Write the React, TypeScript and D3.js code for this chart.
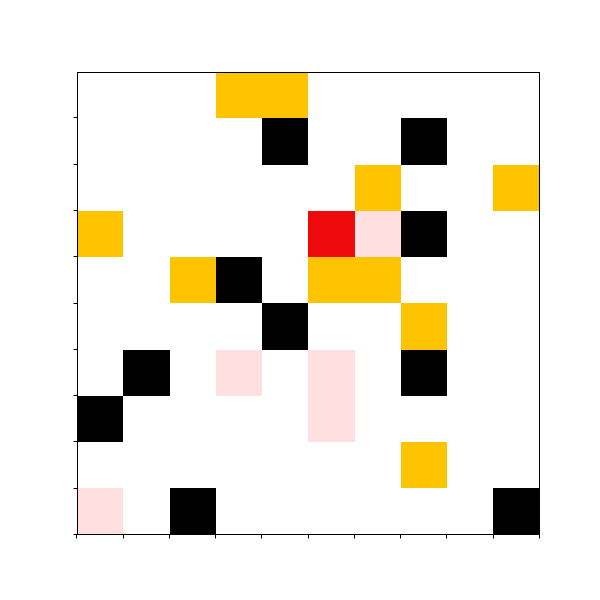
import React from "react";
import * as d3 from "d3";

const categoryNames = ["empty", "pink", "yellow", "red", "black"];
const categoryColors = ["#ffffff", "#ffdfe0", "#ffc400", "#ee0a0a", "#000000"];

// rows listed from top to bottom, values are category indices
const row0 = [0, 0, 0, 2, 2, 0, 0, 0, 0, 0];
const row1 = [0, 0, 0, 0, 4, 0, 0, 4, 0, 0];
const row2 = [0, 0, 0, 0, 0, 0, 2, 0, 0, 2];
const row3 = [2, 0, 0, 0, 0, 3, 1, 4, 0, 0];
const row4 = [0, 0, 2, 4, 0, 2, 2, 0, 0, 0];
const row5 = [0, 0, 0, 0, 4, 0, 0, 2, 0, 0];
const row6 = [0, 4, 0, 1, 0, 1, 0, 4, 0, 0];
const row7 = [4, 0, 0, 0, 0, 1, 0, 0, 0, 0];
const row8 = [0, 0, 0, 0, 0, 0, 0, 2, 0, 0];
const row9 = [1, 0, 4, 0, 0, 0, 0, 0, 0, 4];
const grid = [row0, row1, row2, row3, row4, row5, row6, row7, row8, row9];

const xTicks = [0, 1, 2, 3, 4, 5, 6, 7, 8, 9, 10];
const yTicks = [0, 1, 2, 3, 4, 5, 6, 7, 8, 9];

export default function App() {
  const W = 600, H = 600;
  const left = 77, right = 539.5, top = 72, bottom = 534.5;
  const x = d3.scaleLinear().domain([0, 10]).range([left, right]);
  const y = d3.scaleLinear().domain([0, 10]).range([bottom, top]);
  const nRows = grid.length;
  const color = d3.scaleOrdinal<number, string>().domain(d3.range(categoryNames.length)).range(categoryColors);
  const px = (v: number) => Math.round(v - 0.5) + 0.5;

  const cells: JSX.Element[] = [];
  grid.forEach((row, r) => {
    row.forEach((v, c) => {
      if (v === 0) return;
      const yv = nRows - 1 - r;
      cells.push(
        <rect
          key={`${r}-${c}`}
          x={x(c)}
          y={y(yv + 1)}
          width={x(c + 1) - x(c)}
          height={y(yv) - y(yv + 1)}
          fill={color(v)}
          shapeRendering="crispEdges"
        />
      );
    });
  });

  const L = px(left), R = px(right - 0.5), T = px(top), B = px(bottom - 0.5);

  return (
    <svg width={W} height={H} style={{ display: "block", position: "absolute", left: 0, top: 0 }}>
      <rect width={W} height={H} fill="#fff" />
      {cells}
      {xTicks.map((t) => (
        <line key={"xt" + t} x1={px(x(t) - 0.25)} x2={px(x(t) - 0.25)} y1={B} y2={B + 4} stroke="#000" strokeWidth={1} />
      ))}
      {yTicks.map((t) => (
        <line key={"yt" + t} x1={L - 4} x2={L} y1={px(y(t) - 0.25)} y2={px(y(t) - 0.25)} stroke="#000" strokeWidth={1} />
      ))}
      <rect x={L} y={T} width={R - L} height={B - T} fill="none" stroke="#000" strokeWidth={1} />
    </svg>
  );
}
